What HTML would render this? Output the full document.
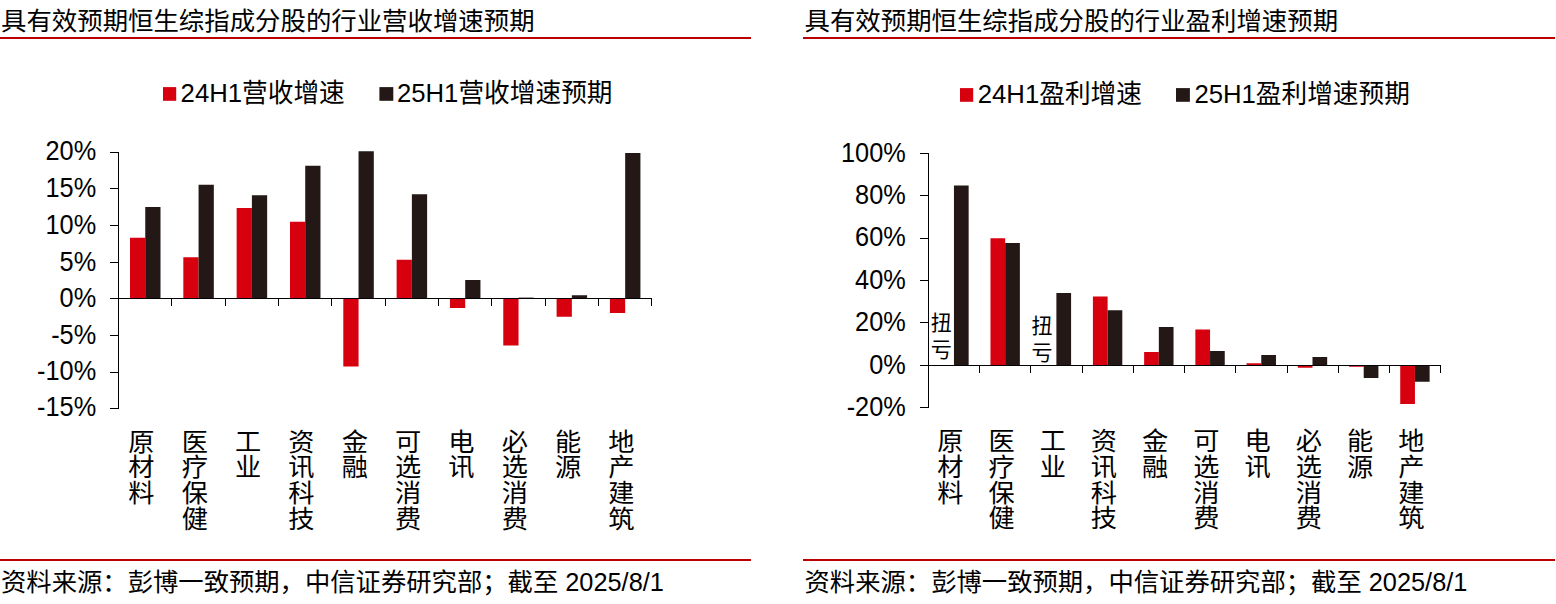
<!DOCTYPE html>
<html lang="zh-CN"><head><meta charset="utf-8"><title>恒生综指行业营收与盈利增速预期</title>
<style>html,body{margin:0;padding:0;background:#fff;overflow:hidden}svg{display:block;font-family:"Liberation Sans", "Noto Sans CJK SC", sans-serif;fill:#000}</style></head><body>
<svg width="1556" height="604" viewBox="0 0 1556 604" shape-rendering="auto">
<rect x="0" y="0" width="1556" height="604" fill="#fff"/>
<text x="1.00" y="30.00" font-size="25.42" text-anchor="start">具有效预期恒生综指成分股的行业营收增速预期</text>
<rect x="0.00" y="37.00" width="751.00" height="2.00" fill="#bc0000"/>
<rect x="0.00" y="559.00" width="751.00" height="2.00" fill="#bc0000"/>
<text x="1.00" y="590.60" font-size="25.33" text-anchor="start">资料来源：彭博一致预期，中信证券研究部；截至 2025/8/1</text>
<rect x="163.00" y="87.10" width="13.20" height="13.70" fill="#d7000f"/>
<text transform="translate(180.60 101.50) scale(1 1.035)" font-size="25.7" text-anchor="start">24H1营收增速</text>
<rect x="379.40" y="87.10" width="13.90" height="13.70" fill="#231815"/>
<text transform="translate(397.00 101.50) scale(1 1.035)" font-size="25.7" text-anchor="start">25H1营收增速预期</text>
<rect x="130.00" y="237.75" width="15.25" height="60.75" fill="#d7000f"/>
<rect x="145.25" y="207.00" width="15.25" height="91.50" fill="#231815"/>
<rect x="183.32" y="257.25" width="15.25" height="41.25" fill="#d7000f"/>
<rect x="198.57" y="184.75" width="15.25" height="113.75" fill="#231815"/>
<rect x="236.65" y="208.00" width="15.25" height="90.50" fill="#d7000f"/>
<rect x="251.90" y="195.25" width="15.25" height="103.25" fill="#231815"/>
<rect x="289.98" y="221.75" width="15.25" height="76.75" fill="#d7000f"/>
<rect x="305.23" y="165.75" width="15.25" height="132.75" fill="#231815"/>
<rect x="343.30" y="298.50" width="15.25" height="68.00" fill="#d7000f"/>
<rect x="358.55" y="151.25" width="15.25" height="147.25" fill="#231815"/>
<rect x="396.62" y="259.75" width="15.25" height="38.75" fill="#d7000f"/>
<rect x="411.88" y="194.25" width="15.25" height="104.25" fill="#231815"/>
<rect x="449.95" y="298.50" width="15.25" height="9.50" fill="#d7000f"/>
<rect x="465.20" y="280.00" width="15.25" height="18.50" fill="#231815"/>
<rect x="503.28" y="298.50" width="15.25" height="47.00" fill="#d7000f"/>
<rect x="518.53" y="297.60" width="15.25" height="0.90" fill="#231815"/>
<rect x="556.60" y="298.50" width="15.25" height="18.25" fill="#d7000f"/>
<rect x="571.85" y="295.25" width="15.25" height="3.25" fill="#231815"/>
<rect x="609.92" y="298.50" width="15.25" height="14.50" fill="#d7000f"/>
<rect x="625.17" y="153.00" width="15.25" height="145.50" fill="#231815"/>
<g fill="#000" shape-rendering="crispEdges"><rect x="118" y="152" width="1" height="257"/><rect x="110" y="298" width="542" height="1"/><rect x="110" y="152" width="8" height="1"/><rect x="110" y="188" width="8" height="1"/><rect x="110" y="225" width="8" height="1"/><rect x="110" y="262" width="8" height="1"/><rect x="110" y="298" width="8" height="1"/><rect x="110" y="335" width="8" height="1"/><rect x="110" y="372" width="8" height="1"/><rect x="110" y="408" width="8" height="1"/><rect x="171" y="298" width="1" height="8"/><rect x="225" y="298" width="1" height="8"/><rect x="278" y="298" width="1" height="8"/><rect x="331" y="298" width="1" height="8"/><rect x="385" y="298" width="1" height="8"/><rect x="438" y="298" width="1" height="8"/><rect x="491" y="298" width="1" height="8"/><rect x="545" y="298" width="1" height="8"/><rect x="598" y="298" width="1" height="8"/><rect x="651" y="298" width="1" height="8"/></g>
<text transform="translate(96.20 160.30) scale(1 1.06)" font-size="25.33" text-anchor="end">20%</text>
<text transform="translate(96.20 196.80) scale(1 1.06)" font-size="25.33" text-anchor="end">15%</text>
<text transform="translate(96.20 234.00) scale(1 1.06)" font-size="25.33" text-anchor="end">10%</text>
<text transform="translate(96.20 271.00) scale(1 1.06)" font-size="25.33" text-anchor="end">5%</text>
<text transform="translate(96.20 307.30) scale(1 1.06)" font-size="25.33" text-anchor="end">0%</text>
<text transform="translate(96.20 343.80) scale(1 1.06)" font-size="25.33" text-anchor="end">-5%</text>
<text transform="translate(96.20 379.80) scale(1 1.06)" font-size="25.33" text-anchor="end">-10%</text>
<text transform="translate(96.20 416.40) scale(1 1.06)" font-size="25.33" text-anchor="end">-15%</text>
<text transform="translate(141.46 450.70) scale(1 0.96)" font-size="26.2" text-anchor="middle"><tspan x="0" y="0.00">原</tspan><tspan x="0" y="26.82">材</tspan><tspan x="0" y="53.65">料</tspan></text>
<text transform="translate(194.79 450.70) scale(1 0.96)" font-size="26.2" text-anchor="middle"><tspan x="0" y="0.00">医</tspan><tspan x="0" y="26.82">疗</tspan><tspan x="0" y="53.65">保</tspan><tspan x="0" y="80.47">健</tspan></text>
<text transform="translate(248.11 450.70) scale(1 0.96)" font-size="26.2" text-anchor="middle"><tspan x="0" y="0.00">工</tspan><tspan x="0" y="26.82">业</tspan></text>
<text transform="translate(301.44 450.70) scale(1 0.96)" font-size="26.2" text-anchor="middle"><tspan x="0" y="0.00">资</tspan><tspan x="0" y="26.82">讯</tspan><tspan x="0" y="53.65">科</tspan><tspan x="0" y="80.47">技</tspan></text>
<text transform="translate(354.76 450.70) scale(1 0.96)" font-size="26.2" text-anchor="middle"><tspan x="0" y="0.00">金</tspan><tspan x="0" y="26.82">融</tspan></text>
<text transform="translate(408.09 450.70) scale(1 0.96)" font-size="26.2" text-anchor="middle"><tspan x="0" y="0.00">可</tspan><tspan x="0" y="26.82">选</tspan><tspan x="0" y="53.65">消</tspan><tspan x="0" y="80.47">费</tspan></text>
<text transform="translate(461.41 450.70) scale(1 0.96)" font-size="26.2" text-anchor="middle"><tspan x="0" y="0.00">电</tspan><tspan x="0" y="26.82">讯</tspan></text>
<text transform="translate(514.74 450.70) scale(1 0.96)" font-size="26.2" text-anchor="middle"><tspan x="0" y="0.00">必</tspan><tspan x="0" y="26.82">选</tspan><tspan x="0" y="53.65">消</tspan><tspan x="0" y="80.47">费</tspan></text>
<text transform="translate(568.06 450.70) scale(1 0.96)" font-size="26.2" text-anchor="middle"><tspan x="0" y="0.00">能</tspan><tspan x="0" y="26.82">源</tspan></text>
<text transform="translate(621.39 450.70) scale(1 0.96)" font-size="26.2" text-anchor="middle"><tspan x="0" y="0.00">地</tspan><tspan x="0" y="26.82">产</tspan><tspan x="0" y="53.65">建</tspan><tspan x="0" y="80.47">筑</tspan></text>
<text x="804.50" y="30.00" font-size="25.42" text-anchor="start">具有效预期恒生综指成分股的行业盈利增速预期</text>
<rect x="803.00" y="37.00" width="752.00" height="2.00" fill="#bc0000"/>
<rect x="803.00" y="559.00" width="752.00" height="2.00" fill="#bc0000"/>
<text x="804.50" y="590.60" font-size="25.33" text-anchor="start">资料来源：彭博一致预期，中信证券研究部；截至 2025/8/1</text>
<rect x="960.00" y="88.10" width="13.20" height="13.70" fill="#d7000f"/>
<text transform="translate(977.80 102.50) scale(1 1.035)" font-size="25.7" text-anchor="start">24H1盈利增速</text>
<rect x="1176.00" y="88.10" width="13.90" height="13.70" fill="#231815"/>
<text transform="translate(1194.40 102.50) scale(1 1.035)" font-size="25.7" text-anchor="start">25H1盈利增速预期</text>
<rect x="953.95" y="185.50" width="14.70" height="180.00" fill="#231815"/>
<rect x="990.47" y="238.25" width="14.70" height="127.25" fill="#d7000f"/>
<rect x="1005.17" y="243.00" width="14.70" height="122.50" fill="#231815"/>
<rect x="1056.39" y="293.00" width="14.70" height="72.50" fill="#231815"/>
<rect x="1092.91" y="296.50" width="14.70" height="69.00" fill="#d7000f"/>
<rect x="1107.61" y="310.25" width="14.70" height="55.25" fill="#231815"/>
<rect x="1144.13" y="352.00" width="14.70" height="13.50" fill="#d7000f"/>
<rect x="1158.83" y="327.00" width="14.70" height="38.50" fill="#231815"/>
<rect x="1195.35" y="329.50" width="14.70" height="36.00" fill="#d7000f"/>
<rect x="1210.05" y="351.00" width="14.70" height="14.50" fill="#231815"/>
<rect x="1246.57" y="363.25" width="14.70" height="2.25" fill="#d7000f"/>
<rect x="1261.27" y="355.00" width="14.70" height="10.50" fill="#231815"/>
<rect x="1297.79" y="365.50" width="14.70" height="2.25" fill="#d7000f"/>
<rect x="1312.49" y="357.00" width="14.70" height="8.50" fill="#231815"/>
<rect x="1349.01" y="365.50" width="14.70" height="1.25" fill="#d7000f"/>
<rect x="1363.71" y="365.50" width="14.70" height="12.50" fill="#231815"/>
<rect x="1400.23" y="365.50" width="14.70" height="38.50" fill="#d7000f"/>
<rect x="1414.93" y="365.50" width="14.70" height="16.25" fill="#231815"/>
<g fill="#000" shape-rendering="crispEdges"><rect x="928" y="153" width="1" height="255"/><rect x="920" y="365" width="521" height="1"/><rect x="920" y="153" width="8" height="1"/><rect x="920" y="195" width="8" height="1"/><rect x="920" y="238" width="8" height="1"/><rect x="920" y="280" width="8" height="1"/><rect x="920" y="322" width="8" height="1"/><rect x="920" y="365" width="8" height="1"/><rect x="920" y="407" width="8" height="1"/><rect x="979" y="365" width="1" height="8"/><rect x="1030" y="365" width="1" height="8"/><rect x="1082" y="365" width="1" height="8"/><rect x="1133" y="365" width="1" height="8"/><rect x="1184" y="365" width="1" height="8"/><rect x="1235" y="365" width="1" height="8"/><rect x="1287" y="365" width="1" height="8"/><rect x="1338" y="365" width="1" height="8"/><rect x="1389" y="365" width="1" height="8"/><rect x="1440" y="365" width="1" height="8"/></g>
<text transform="translate(905.80 162.00) scale(1 1.06)" font-size="25.33" text-anchor="end">100%</text>
<text transform="translate(905.80 204.00) scale(1 1.06)" font-size="25.33" text-anchor="end">80%</text>
<text transform="translate(905.80 246.40) scale(1 1.06)" font-size="25.33" text-anchor="end">60%</text>
<text transform="translate(905.80 289.00) scale(1 1.06)" font-size="25.33" text-anchor="end">40%</text>
<text transform="translate(905.80 331.00) scale(1 1.06)" font-size="25.33" text-anchor="end">20%</text>
<text transform="translate(905.80 374.00) scale(1 1.06)" font-size="25.33" text-anchor="end">0%</text>
<text transform="translate(905.80 416.00) scale(1 1.06)" font-size="25.33" text-anchor="end">-20%</text>
<text transform="translate(950.31 450.10) scale(1 0.96)" font-size="26.2" text-anchor="middle"><tspan x="0" y="0.00">原</tspan><tspan x="0" y="26.82">材</tspan><tspan x="0" y="53.65">料</tspan></text>
<text transform="translate(1001.53 450.10) scale(1 0.96)" font-size="26.2" text-anchor="middle"><tspan x="0" y="0.00">医</tspan><tspan x="0" y="26.82">疗</tspan><tspan x="0" y="53.65">保</tspan><tspan x="0" y="80.47">健</tspan></text>
<text transform="translate(1052.75 450.10) scale(1 0.96)" font-size="26.2" text-anchor="middle"><tspan x="0" y="0.00">工</tspan><tspan x="0" y="26.82">业</tspan></text>
<text transform="translate(1103.97 450.10) scale(1 0.96)" font-size="26.2" text-anchor="middle"><tspan x="0" y="0.00">资</tspan><tspan x="0" y="26.82">讯</tspan><tspan x="0" y="53.65">科</tspan><tspan x="0" y="80.47">技</tspan></text>
<text transform="translate(1155.19 450.10) scale(1 0.96)" font-size="26.2" text-anchor="middle"><tspan x="0" y="0.00">金</tspan><tspan x="0" y="26.82">融</tspan></text>
<text transform="translate(1206.41 450.10) scale(1 0.96)" font-size="26.2" text-anchor="middle"><tspan x="0" y="0.00">可</tspan><tspan x="0" y="26.82">选</tspan><tspan x="0" y="53.65">消</tspan><tspan x="0" y="80.47">费</tspan></text>
<text transform="translate(1257.63 450.10) scale(1 0.96)" font-size="26.2" text-anchor="middle"><tspan x="0" y="0.00">电</tspan><tspan x="0" y="26.82">讯</tspan></text>
<text transform="translate(1308.85 450.10) scale(1 0.96)" font-size="26.2" text-anchor="middle"><tspan x="0" y="0.00">必</tspan><tspan x="0" y="26.82">选</tspan><tspan x="0" y="53.65">消</tspan><tspan x="0" y="80.47">费</tspan></text>
<text transform="translate(1360.07 450.10) scale(1 0.96)" font-size="26.2" text-anchor="middle"><tspan x="0" y="0.00">能</tspan><tspan x="0" y="26.82">源</tspan></text>
<text transform="translate(1411.29 450.10) scale(1 0.96)" font-size="26.2" text-anchor="middle"><tspan x="0" y="0.00">地</tspan><tspan x="0" y="26.82">产</tspan><tspan x="0" y="53.65">建</tspan><tspan x="0" y="80.47">筑</tspan></text>
<text transform="translate(941.20 329.60) scale(1 1.0)" font-size="21.0" text-anchor="middle"><tspan x="0" y="0.00">扭</tspan><tspan x="0" y="27.00">亏</tspan></text>
<text transform="translate(1041.90 332.70) scale(1 1.0)" font-size="21.0" text-anchor="middle"><tspan x="0" y="0.00">扭</tspan><tspan x="0" y="27.00">亏</tspan></text>
</svg></body></html>
